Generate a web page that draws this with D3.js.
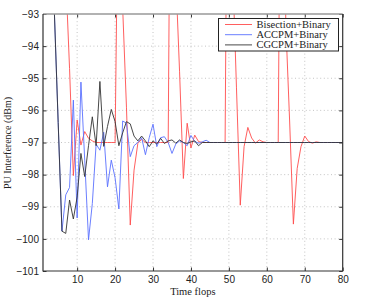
<!DOCTYPE html>
<html>
<head>
<meta charset="utf-8">
<script src="https://cdn.jsdelivr.net/npm/d3@7"></script>
<style>
  body { margin: 0; background: #fff; }
  svg { display: block; }
  .tick text { font-family: "Liberation Sans", Arial, sans-serif; font-size: 10px; fill: #222; }
  .lbl { font-family: "Liberation Serif", "Times New Roman", serif; fill: #222; }
</style>
</head>
<body>
<svg id="chart" width="383" height="297"></svg>
<script>
// time axis (flops), one sample per step
var flops = d3.range(1, 81);

var bisection = [
  -60, -60, -62, -65, -70, -80, -91.8, -94.7, -98.03, -96.3,
  -97.08, -96.66, -96.87, -96.95, -97, -97, -97, -97, -97, -97,
  -87, -92.8, -95.9, -99.57, -97.86, -97.03, -96.9, -97, -97, -97,
  -97, -97, -97, -97, -80, -91.8, -94.8, -98.12, -96.4, -97.17,
  -96.77, -96.97, -97, -97, -97, -97, -97, -97, -97, -80,
  -91.6, -95.3, -98.95, -97.13, -96.53, -96.86, -97.02, -96.92, -96.98, -97,
  -97, -97, -97, -80, -93.3, -96.3, -99.54, -97.81, -97.13, -96.8,
  -96.97, -97.02, -96.98, -97, -97, -97, -97, -97, -97, -97
];

var accpm = [
  -70, -75, -80, -92.95, -96.38, -99.76, -98.63, -98.4, -95.68, -99.35,
  -95.12, -97.55, -100.03, -98.9, -97.05, -97.24, -96.68, -98.38, -97.55, -98.1,
  -99.07, -96.33, -96.4, -97.44, -97.1, -97, -96.85, -97.38, -96.85, -96.43,
  -97.13, -96.85, -96.82, -97, -97.34, -97.05, -96.95, -97, -97.1, -96.78,
  -96.97, -97.02, -96.98, -96.93, -97, -97, -97, -97, -97, -97,
  -97, -97, -97, -97, -97, -97, -97, -97, -97, -97,
  -97, -97, -97, -97, -97, -97, -97, -97, -97, -97,
  -97, -97, -97, -97, -97, -97, -97, -97, -97, -97
];

var cgcpm = [
  -70, -75, -80, -92.95, -96.38, -99.76, -99.83, -98.79, -99.38, -98.7,
  -97.34, -98.06, -97.1, -96.2, -97.1, -95.1, -97.12, -96.5, -95.97, -96.35,
  -97.1, -96.7, -96.35, -96.42, -96.8, -96.95, -96.8, -96.95, -97.13, -96.95,
  -97.05, -96.87, -97.03, -96.95, -96.92, -97.02, -96.92, -97, -97.03, -96.98,
  -96.95, -97.1, -97, -97, -97, -97, -97, -97, -97, -97,
  -97, -97, -97, -97, -97, -97, -97, -97, -97, -97,
  -97, -97, -97, -97, -97, -97, -97, -97, -97, -97,
  -97, -97, -97, -97, -97, -97, -97, -97, -97, -97
];

var seriesNames = ['Bisection+Binary', 'ACCPM+Binary', 'CGCPM+Binary'];
var seriesColors = ['#ff4d4d', '#5a70ff', '#333333'];
var xTicks = [10, 20, 30, 40, 50, 60, 70, 80];
var yTicks = [-101, -100, -99, -98, -97, -96, -95, -94, -93];

var Chart = {};

Chart.init = function() {
    this.svg = d3.select('#chart');
    this.left = 43; this.right = 342.7;
    this.top = 14; this.bottom = 271;
    this.x = d3.scaleLinear().domain([1, 80]).range([this.left, this.right]);
    this.y = d3.scaleLinear().domain([-101, -93]).range([this.bottom, this.top]);
    this.drawGrid();
    this.drawLines();
    this.drawAxes();
    this.drawLegend();
};

Chart.drawGrid = function() {
    var self = this;
    var g = self.svg.append('g')
        .attr('stroke', '#b5b5b5')
        .attr('stroke-width', 0.8)
        .attr('stroke-dasharray', '1,2.6');
    xTicks.slice(0, -1).forEach(function(t) {
        g.append('line')
            .attr('x1', self.x(t)).attr('x2', self.x(t))
            .attr('y1', self.top).attr('y2', self.bottom);
    });
    yTicks.slice(1, -1).forEach(function(t) {
        g.append('line')
            .attr('x1', self.left).attr('x2', self.right)
            .attr('y1', self.y(t)).attr('y2', self.y(t));
    });
};

Chart.drawLines = function() {
    var self = this;
    self.svg.append('clipPath').attr('id', 'plot-clip')
        .append('rect')
        .attr('x', self.left).attr('y', self.top)
        .attr('width', self.right - self.left)
        .attr('height', self.bottom - self.top);

    var line = d3.line()
        .x(function(d, i) { return self.x(flops[i]); })
        .y(function(d) { return self.y(d); });

    [bisection, accpm, cgcpm].forEach(function(values, k) {
        self.svg.append('path')
            .datum(values)
            .attr('clip-path', 'url(#plot-clip)')
            .attr('fill', 'none')
            .attr('stroke', seriesColors[k])
            .attr('stroke-width', 0.9)
            .attr('stroke-linejoin', 'round')
            .attr('d', line);
    });
};

Chart.drawAxes = function() {
    var self = this;
    var fmt = d3.format('d');

    var ax = self.svg.append('g')
        .attr('transform', 'translate(0,' + self.bottom + ')')
        .call(d3.axisBottom(self.x).tickValues(xTicks).tickFormat(fmt)
            .tickSizeInner(-3.5).tickSizeOuter(0).tickPadding(5));
    var ay = self.svg.append('g')
        .attr('transform', 'translate(' + self.left + ',0)')
        .call(d3.axisLeft(self.y).tickValues(yTicks).tickFormat(fmt)
            .tickSizeInner(-3.5).tickSizeOuter(0).tickPadding(4));
    var at = self.svg.append('g')
        .attr('transform', 'translate(0,' + self.top + ')')
        .call(d3.axisTop(self.x).tickValues(xTicks).tickFormat('')
            .tickSizeInner(-3.5).tickSizeOuter(0));
    var ar = self.svg.append('g')
        .attr('transform', 'translate(' + self.right + ',0)')
        .call(d3.axisRight(self.y).tickValues(yTicks).tickFormat('')
            .tickSizeInner(-3.5).tickSizeOuter(0));

    [ax, ay, at, ar].forEach(function(g) {
        g.selectAll('.domain').remove();
        g.selectAll('.tick line').attr('stroke', '#333');
    });

    // box
    self.svg.append('line')
        .attr('x1', self.left).attr('x2', self.right)
        .attr('y1', self.top).attr('y2', self.top)
        .attr('stroke', '#999').attr('stroke-width', 1.3);
    self.svg.append('path')
        .attr('d', 'M' + self.left + ',' + self.top + 'V' + self.bottom + 'H' + self.right + 'V' + self.top)
        .attr('fill', 'none')
        .attr('stroke', '#333')
        .attr('stroke-width', 1.2);

    self.svg.append('text')
        .attr('class', 'lbl')
        .attr('x', (self.left + self.right) / 2)
        .attr('y', 294.5)
        .attr('text-anchor', 'middle')
        .style('font-size', '10.5px')
        .text('Time flops');

    self.svg.append('text')
        .attr('class', 'lbl')
        .attr('transform', 'translate(11,143) rotate(-90)')
        .attr('text-anchor', 'middle')
        .style('font-size', '10px')
        .text('PU Interference (dBm)');
};

Chart.drawLegend = function() {
    var self = this;
    var g = self.svg.append('g');
    g.append('rect')
        .attr('x', 218.5).attr('y', 18.5)
        .attr('width', 120).attr('height', 32.5)
        .attr('fill', '#fff')
        .attr('stroke', '#222')
        .attr('stroke-width', 1);
    seriesNames.forEach(function(name, i) {
        var yy = 24.5 + i * 10.2;
        g.append('line')
            .attr('x1', 225).attr('x2', 252)
            .attr('y1', yy).attr('y2', yy)
            .attr('stroke', seriesColors[i])
            .attr('stroke-width', 0.9);
        g.append('text')
            .attr('class', 'lbl')
            .attr('x', 256.5)
            .attr('y', yy + 3.5)
            .style('font-size', '10.5px')
            .text(name);
    });
};

Chart.init();
</script>
</body>
</html>
